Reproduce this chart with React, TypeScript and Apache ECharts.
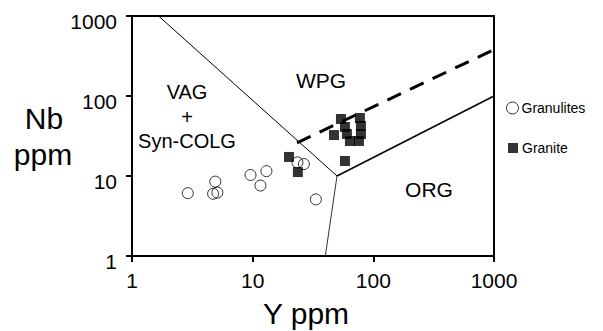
import React, { useEffect, useRef } from "react";
import * as echarts from "echarts";

// Data (Y ppm vs Nb ppm)
const granuliteY = [2.9, 4.7, 5.1, 4.9, 9.6, 13.0, 11.6, 23.5, 26.6, 33.4];
const granuliteNb = [6.1, 6.0, 6.2, 8.5, 10.3, 11.5, 7.6, 14.8, 14.1, 5.1];
const graniteY = [20.0, 23.7, 53.9, 47.2, 58.2, 60.4, 64.0, 77.4, 78.9, 78.9, 76.0, 58.2];
const graniteNb = [17.3, 11.2, 51.6, 32.5, 41.0, 33.5, 27.4, 53.1, 42.2, 33.5, 27.4, 15.4];

// Field boundaries (Pearce et al. 1984)
const vagWpgLine = [[1.66, 1000], [50, 10]];
const wpgOrgLine = [[50, 10], [1000, 100]];
const vagOrgLine = [[50, 10], [40, 1]];
const ormDashedLine = [[23.3, 26], [1000, 380]];

const axisTicks = [1, 10, 100, 1000];
const FONT = "Liberation Sans";

export default function App() {
  const ref = useRef<HTMLDivElement>(null);
  useEffect(() => {
    document.body.style.margin = "0";
    const chart = echarts.init(ref.current!, null, { renderer: "svg" });
    const pairs = (xs: number[], ys: number[]) => xs.map((x, i) => [x, ys[i]]);
    const axisCommon = {
      type: "log" as const,
      logBase: 10,
      min: axisTicks[0],
      max: axisTicks[axisTicks.length - 1],
      splitLine: { show: false },
      minorTick: { show: false },
      axisLine: { show: true, lineStyle: { color: "#000", width: 2 } },
      axisTick: { show: true, inside: false, length: 6, lineStyle: { color: "#000", width: 2 } },
    };
    const fmt = (v: number) => String(Math.round(v));
    chart.setOption({
      animation: false,
      grid: {
        left: 132,
        right: 109,
        top: 16,
        bottom: 75,
        show: true,
        borderColor: "#000",
        borderWidth: 2,
        backgroundColor: "transparent",
      },
      xAxis: {
        ...axisCommon,
        axisLabel: { color: "#000", fontFamily: FONT, fontSize: 21, margin: 14, formatter: fmt },
      },
      yAxis: {
        ...axisCommon,
        axisLabel: {
          color: "#000",
          fontFamily: FONT,
          fontSize: 21,
          margin: 15,
          verticalAlign: "top",
          lineHeight: 11,
          formatter: fmt,
        },
      },
      legend: [
        {
          left: 506,
          top: 101,
          padding: 0,
          itemWidth: 12,
          itemHeight: 12,
          itemGap: 0,
          textStyle: { color: "#000", fontFamily: FONT, fontSize: 14, padding: [0, 0, 0, -2] },
          data: [
            {
              name: "Granulites",
              icon: "circle",
              itemStyle: { color: "rgba(0,0,0,0)", borderColor: "#000", borderWidth: 1 },
            },
          ],
        },
        {
          left: 508,
          top: 141,
          padding: 0,
          itemWidth: 10,
          itemHeight: 10,
          textStyle: { color: "#000", fontFamily: FONT, fontSize: 14, padding: [0, 0, 0, -1] },
          data: [{ name: "Granite", icon: "rect", itemStyle: { color: "#000" } }],
        },
      ],
      series: [
        {
          type: "line",
          name: "vag-wpg",
          data: vagWpgLine,
          symbol: "none",
          silent: true,
          lineStyle: { color: "#000", width: 1 },
          z: 1,
        },
        {
          type: "line",
          name: "wpg-org",
          data: wpgOrgLine,
          symbol: "none",
          silent: true,
          lineStyle: { color: "#000", width: 1.5 },
          z: 1,
        },
        {
          type: "line",
          name: "vag-org",
          data: vagOrgLine,
          symbol: "none",
          silent: true,
          lineStyle: { color: "#333", width: 1 },
          z: 1,
        },
        {
          type: "line",
          name: "org-upper",
          data: ormDashedLine,
          symbol: "none",
          silent: true,
          lineStyle: { color: "#000", width: 3, type: [15, 10] },
          z: 1,
        },
        {
          type: "scatter",
          name: "Granulites",
          data: pairs(granuliteY, granuliteNb),
          symbol: "circle",
          symbolSize: 11,
          itemStyle: { color: "rgba(0,0,0,0)", borderColor: "#000", borderWidth: 1 },
          z: 3,
        },
        {
          type: "scatter",
          name: "Granite",
          data: pairs(graniteY, graniteNb),
          symbol: "rect",
          symbolSize: 10,
          itemStyle: { color: "#000" },
          z: 4,
        },
      ],
      graphic: [
        { type: "text", x: 187, y: 92, style: { text: "VAG", font: `20px "${FONT}"`, fill: "#000", align: "center", verticalAlign: "middle" } },
        { type: "text", x: 187, y: 117, style: { text: "+", font: `20px "${FONT}"`, fill: "#000", align: "center", verticalAlign: "middle" } },
        { type: "text", x: 187, y: 141, style: { text: "Syn-COLG", font: `20px "${FONT}"`, fill: "#000", align: "center", verticalAlign: "middle" } },
        { type: "text", x: 321, y: 80, style: { text: "WPG", font: `21px "${FONT}"`, fill: "#000", align: "center", verticalAlign: "middle" } },
        { type: "text", x: 429, y: 189, style: { text: "ORG", font: `21px "${FONT}"`, fill: "#000", align: "center", verticalAlign: "middle" } },
        { type: "text", x: 44, y: 118, style: { text: "Nb", font: `30px "${FONT}"`, fill: "#000", align: "center", verticalAlign: "middle" } },
        { type: "text", x: 43, y: 154, style: { text: "ppm", font: `30px "${FONT}"`, fill: "#000", align: "center", verticalAlign: "middle" } },
        { type: "text", x: 306, y: 313, style: { text: "Y ppm", font: `30px "${FONT}"`, fill: "#000", align: "center", verticalAlign: "middle" } },
      ],
    });
    return () => chart.dispose();
  }, []);
  return <div ref={ref} style={{ width: 603, height: 331 }} />;
}
